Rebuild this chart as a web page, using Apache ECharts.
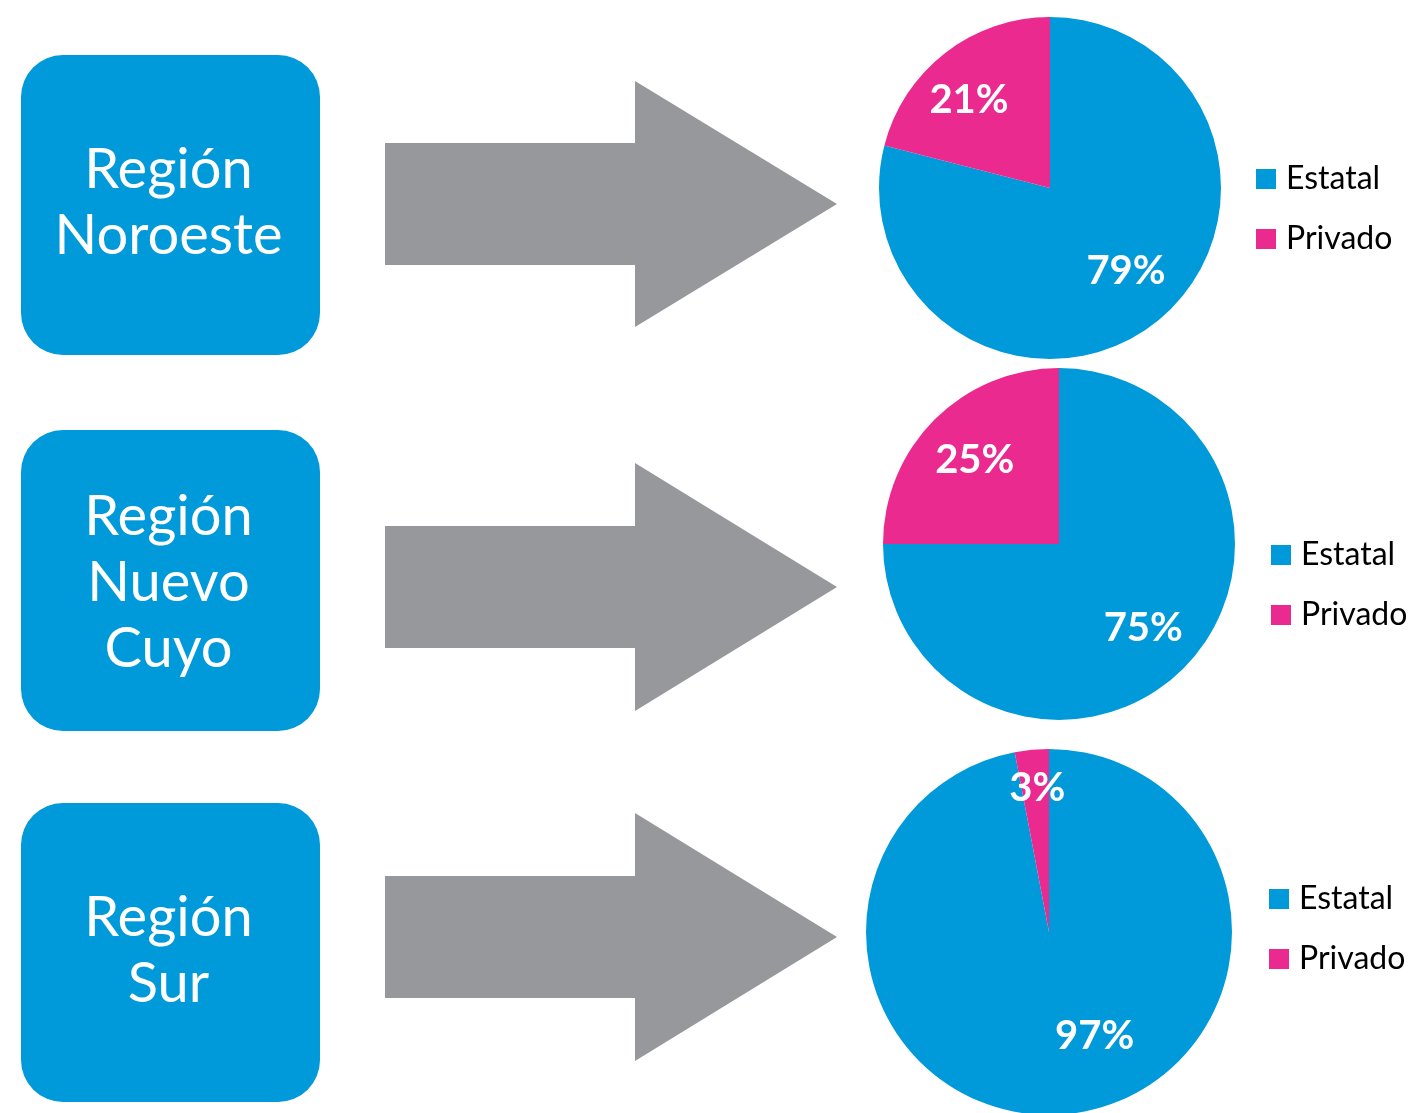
<!DOCTYPE html>
<html>
<head>
<meta charset="utf-8">
<script src="https://cdn.jsdelivr.net/npm/echarts@6/dist/echarts.min.js"></script>
<style>
  html, body { margin: 0; padding: 0; background: #ffffff; }
  #chart { width: 1410px; height: 1113px; }
</style>
</head>
<body>
<div id="chart"></div>
<script>
// ---- Data ----
const regions = ['Región\nNoroeste', 'Región\nNuevo\nCuyo', 'Región\nSur'];
const categories = ['Estatal', 'Privado'];
const estatal = [79, 75, 97];
const privado = [21, 25, 3];

// ---- Layout / style ----
const BLUE = '#0099D9';
const PINK = '#EB2A8F';
const GRAY = '#97989C';
const FONT = 'Lato, "Open Sans", sans-serif';

const boxes = [
  { x: 21, y: 55, w: 299, h: 300, ty: 203 },
  { x: 21, y: 430, w: 299, h: 301, ty: 583 },
  { x: 21, y: 803, w: 299, h: 299, ty: 951 }
];
const arrows = [
  { x0: 385, x1: 635, tip: 837, cy: 204, sh: 61, hh: 123 },
  { x0: 385, x1: 635, tip: 837, cy: 587, sh: 61, hh: 124 },
  { x0: 385, x1: 635, tip: 837, cy: 937, sh: 61, hh: 124 }
];
const pies = [
  { cx: 1050, cy: 188, r: 171, legendX: 1256, legendY: 163, offsets: [[5, -8], [-10, 4]] },
  { cx: 1059, cy: 544, r: 176, legendX: 1271, legendY: 539, offsets: [[0, 0], [0, 0]] },
  { cx: 1049, cy: 932, r: 183, legendX: 1269, legendY: 883, offsets: [[34, -19], [0, -21]] }
];
const LABEL_RATIO = 0.66;

const graphics = [];
boxes.forEach((b, i) => {
  graphics.push({
    type: 'rect',
    shape: { x: b.x, y: b.y, width: b.w, height: b.h, r: 42 },
    style: { fill: BLUE },
    z: 1
  });
  graphics.push({
    type: 'text',
    x: b.x + b.w / 2 - 2,
    y: b.ty,
    style: {
      text: regions[i],
      fill: '#ffffff',
      font: '56px ' + FONT,
      textAlign: 'center',
      textVerticalAlign: 'middle',
      verticalAlign: 'middle',
      lineHeight: 66
    },
    z: 2
  });
});
arrows.forEach(a => {
  graphics.push({
    type: 'polygon',
    shape: {
      points: [
        [a.x0, a.cy - a.sh], [a.x1, a.cy - a.sh], [a.x1, a.cy - a.hh],
        [a.tip, a.cy], [a.x1, a.cy + a.hh], [a.x1, a.cy + a.sh], [a.x0, a.cy + a.sh]
      ]
    },
    style: { fill: GRAY },
    z: 1
  });
});

const series = [];
const legends = [];
pies.forEach((p, i) => {
  const vals = [estatal[i], privado[i]];
  series.push({
    type: 'pie',
    center: [p.cx, p.cy],
    radius: [0, p.r],
    startAngle: 90,
    clockwise: true,
    avoidLabelOverlap: false,
    silent: true,
    label: { show: false },
    labelLine: { show: false },
    emphasis: { disabled: true },
    data: categories.map((c, k) => ({
      name: c, value: vals[k],
      itemStyle: { color: k === 0 ? BLUE : PINK }
    }))
  });
});
pies.forEach((p, i) => {
  const vals = [estatal[i], privado[i]];
  // transparent overlay used only to place the value labels further out
  series.push({
    type: 'pie',
    center: [p.cx, p.cy],
    radius: [p.r * (2 * LABEL_RATIO - 1), p.r],
    startAngle: 90,
    clockwise: true,
    avoidLabelOverlap: false,
    silent: true,
    emphasis: { disabled: true },
    labelLine: { show: false },
    label: {
      show: true,
      position: 'inside',
      formatter: '{c}%',
      color: '#ffffff',
      fontFamily: FONT,
      fontWeight: 'bold',
      fontSize: 40
    },
    data: categories.map((c, k) => ({
      name: c, value: vals[k],
      itemStyle: { color: 'rgba(0,0,0,0)' },
      label: { offset: p.offsets[k] }
    }))
  });
  legends.push({
    orient: 'vertical',
    left: p.legendX,
    top: p.legendY,
    padding: 0,
    itemWidth: 20,
    itemHeight: 20,
    itemGap: 28,
    icon: 'rect',
    selectedMode: false,
    textStyle: { fontFamily: FONT, fontSize: 32, color: '#000000', padding: [0, 0, 0, 5] },
    data: [
      { name: categories[0], itemStyle: { color: BLUE } },
      { name: categories[1], itemStyle: { color: PINK } }
    ]
  });
});

const chart = echarts.init(document.getElementById('chart'));
chart.setOption({
  animation: false,
  backgroundColor: '#ffffff',
  legend: legends,
  graphic: graphics,
  series: series
});
</script>
</body>
</html>
